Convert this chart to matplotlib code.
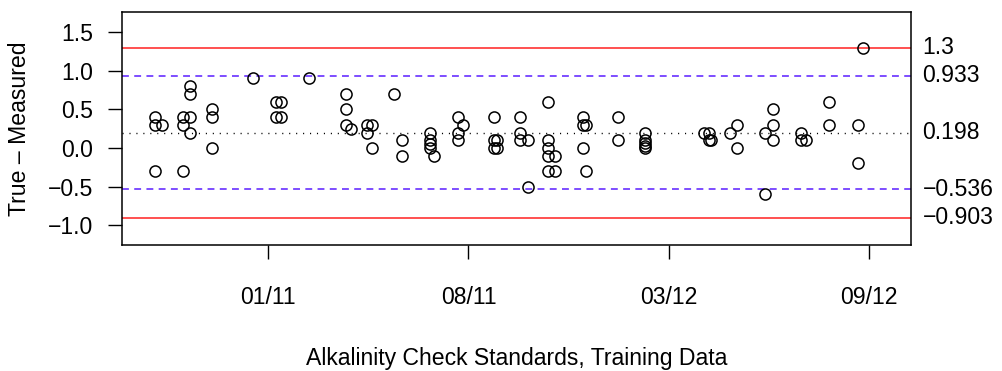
import matplotlib
matplotlib.use("Agg")
import matplotlib.pyplot as plt

plt.rcParams['font.family'] = ['Liberation Sans', 'DejaVu Sans']

# sample positions (index units) and True - Measured differences
x_vals = [8.7, 8.7, 8.7, 9.4,
          11.5, 11.5, 11.5,
          12.2, 12.2, 12.2, 12.2,
          14.4, 14.4, 14.4,
          18.5, 20.8, 20.8, 21.3, 21.3, 24.1,
          27.8, 27.8, 27.8, 28.3,
          29.9, 29.9, 30.4, 30.4,
          32.6, 33.4, 33.4,
          36.2, 36.2, 36.2, 36.2, 36.6,
          39.0, 39.0, 39.0, 39.5,
          42.5, 42.5, 42.5, 42.8, 42.8,
          45.1, 45.1, 45.1, 45.9, 45.9,
          47.9, 47.9, 47.9, 47.9, 47.9, 48.6, 48.6,
          51.4, 51.4, 51.4, 51.7, 51.7,
          54.9, 54.9,
          57.6, 57.6, 57.6, 57.6, 57.6,
          63.5, 64.0, 64.0, 64.2,
          66.1, 66.8, 66.8,
          69.6, 69.6,
          70.4, 70.4, 70.4,
          73.2, 73.2, 73.7,
          76.0, 76.0,
          78.9, 78.9, 79.4]
diff_vals = [0.4, 0.3, -0.3, 0.3,
             0.4, 0.3, -0.3,
             0.8, 0.7, 0.4, 0.2,
             0.5, 0.4, 0.0,
             0.9, 0.6, 0.4, 0.6, 0.4, 0.9,
             0.7, 0.5, 0.3, 0.24,
             0.3, 0.2, 0.3, 0.0,
             0.7, 0.1, -0.1,
             0.2, 0.1, 0.05, 0.0, -0.1,
             0.4, 0.2, 0.1, 0.3,
             0.4, 0.1, 0.0, 0.1, 0.0,
             0.4, 0.2, 0.1, 0.1, -0.5,
             0.6, 0.1, 0.0, -0.1, -0.3, -0.1, -0.3,
             0.4, 0.3, 0.0, 0.3, -0.3,
             0.4, 0.1,
             0.2, 0.1, 0.06, 0.03, 0.0,
             0.2, 0.2, 0.1, 0.1,
             0.2, 0.3, 0.0,
             0.2, -0.6,
             0.5, 0.3, 0.1,
             0.2, 0.1, 0.1,
             0.6, 0.3,
             0.3, -0.2, 1.3]

tick_pos = [20, 40, 60, 80]
tick_labels = ["01/11", "08/11", "03/12", "09/12"]
ytick_vals = [-1.0, -0.5, 0.0, 0.5, 1.0, 1.5]

mean_diff = 0.198
warn_limits = [0.933, -0.536]
ctrl_limits = [1.3, -0.903]
right_labels = ["1.3", "0.933", "0.198", "\u22120.536", "\u22120.903"]
right_vals = [1.3, 0.933, 0.198, -0.536, -0.903]

W, H = 1003, 371
fig = plt.figure(figsize=(W / 100, H / 100), dpi=100)
ax = fig.add_axes([0.1216, 0.3388, 0.908 - 0.1216, 0.9677 - 0.3388])

FS = 16.6

for v in ctrl_limits:
    ax.axhline(v, color='#ff2020', lw=1.1, zorder=1)
for v in warn_limits:
    ax.axhline(v, color='#5a1cff', lw=1.1, ls=(0, (4.5, 3.5)), zorder=1)
ax.axhline(mean_diff, color='black', lw=1.0, ls=(0, (0.8, 4.2)), zorder=1)

ax.plot(x_vals, diff_vals, ls='none', marker='o', ms=8, mfc='none',
        mec='black', mew=1.1, zorder=3)

ax.set_xlim(5.38, 84.18)
ax.set_ylim(-1.26, 1.76)
ax.set_xticks(tick_pos)
ax.set_xticklabels(tick_labels)
ax.set_yticks(ytick_vals)
ax.set_yticklabels([f"{v:.1f}".replace("-", "\u2212") for v in ytick_vals])
ax.tick_params(axis='both', direction='out', length=10, width=1, labelsize=FS, color='black')
ax.tick_params(axis='y', pad=11)
ax.tick_params(axis='x', pad=19)
for s in ax.spines.values():
    s.set_linewidth(1.1)
    s.set_color('black')

fig.text(20 / W, 1 - 129 / H, "True \u2013 Measured", rotation=90, ha='center', va='center',
         fontsize=FS)
fig.text(0.5 * (122 + 910.7) / W, 1 - 358 / H, "Alkalinity Check Standards, Training Data",
         ha='center', va='center', fontsize=FS)

for lab, v in zip(right_labels, right_vals):
    ax.text(1.015, v, lab, transform=ax.get_yaxis_transform(), ha='left', va='center',
            fontsize=FS, clip_on=False)

fig.savefig("out.png", dpi=100)
